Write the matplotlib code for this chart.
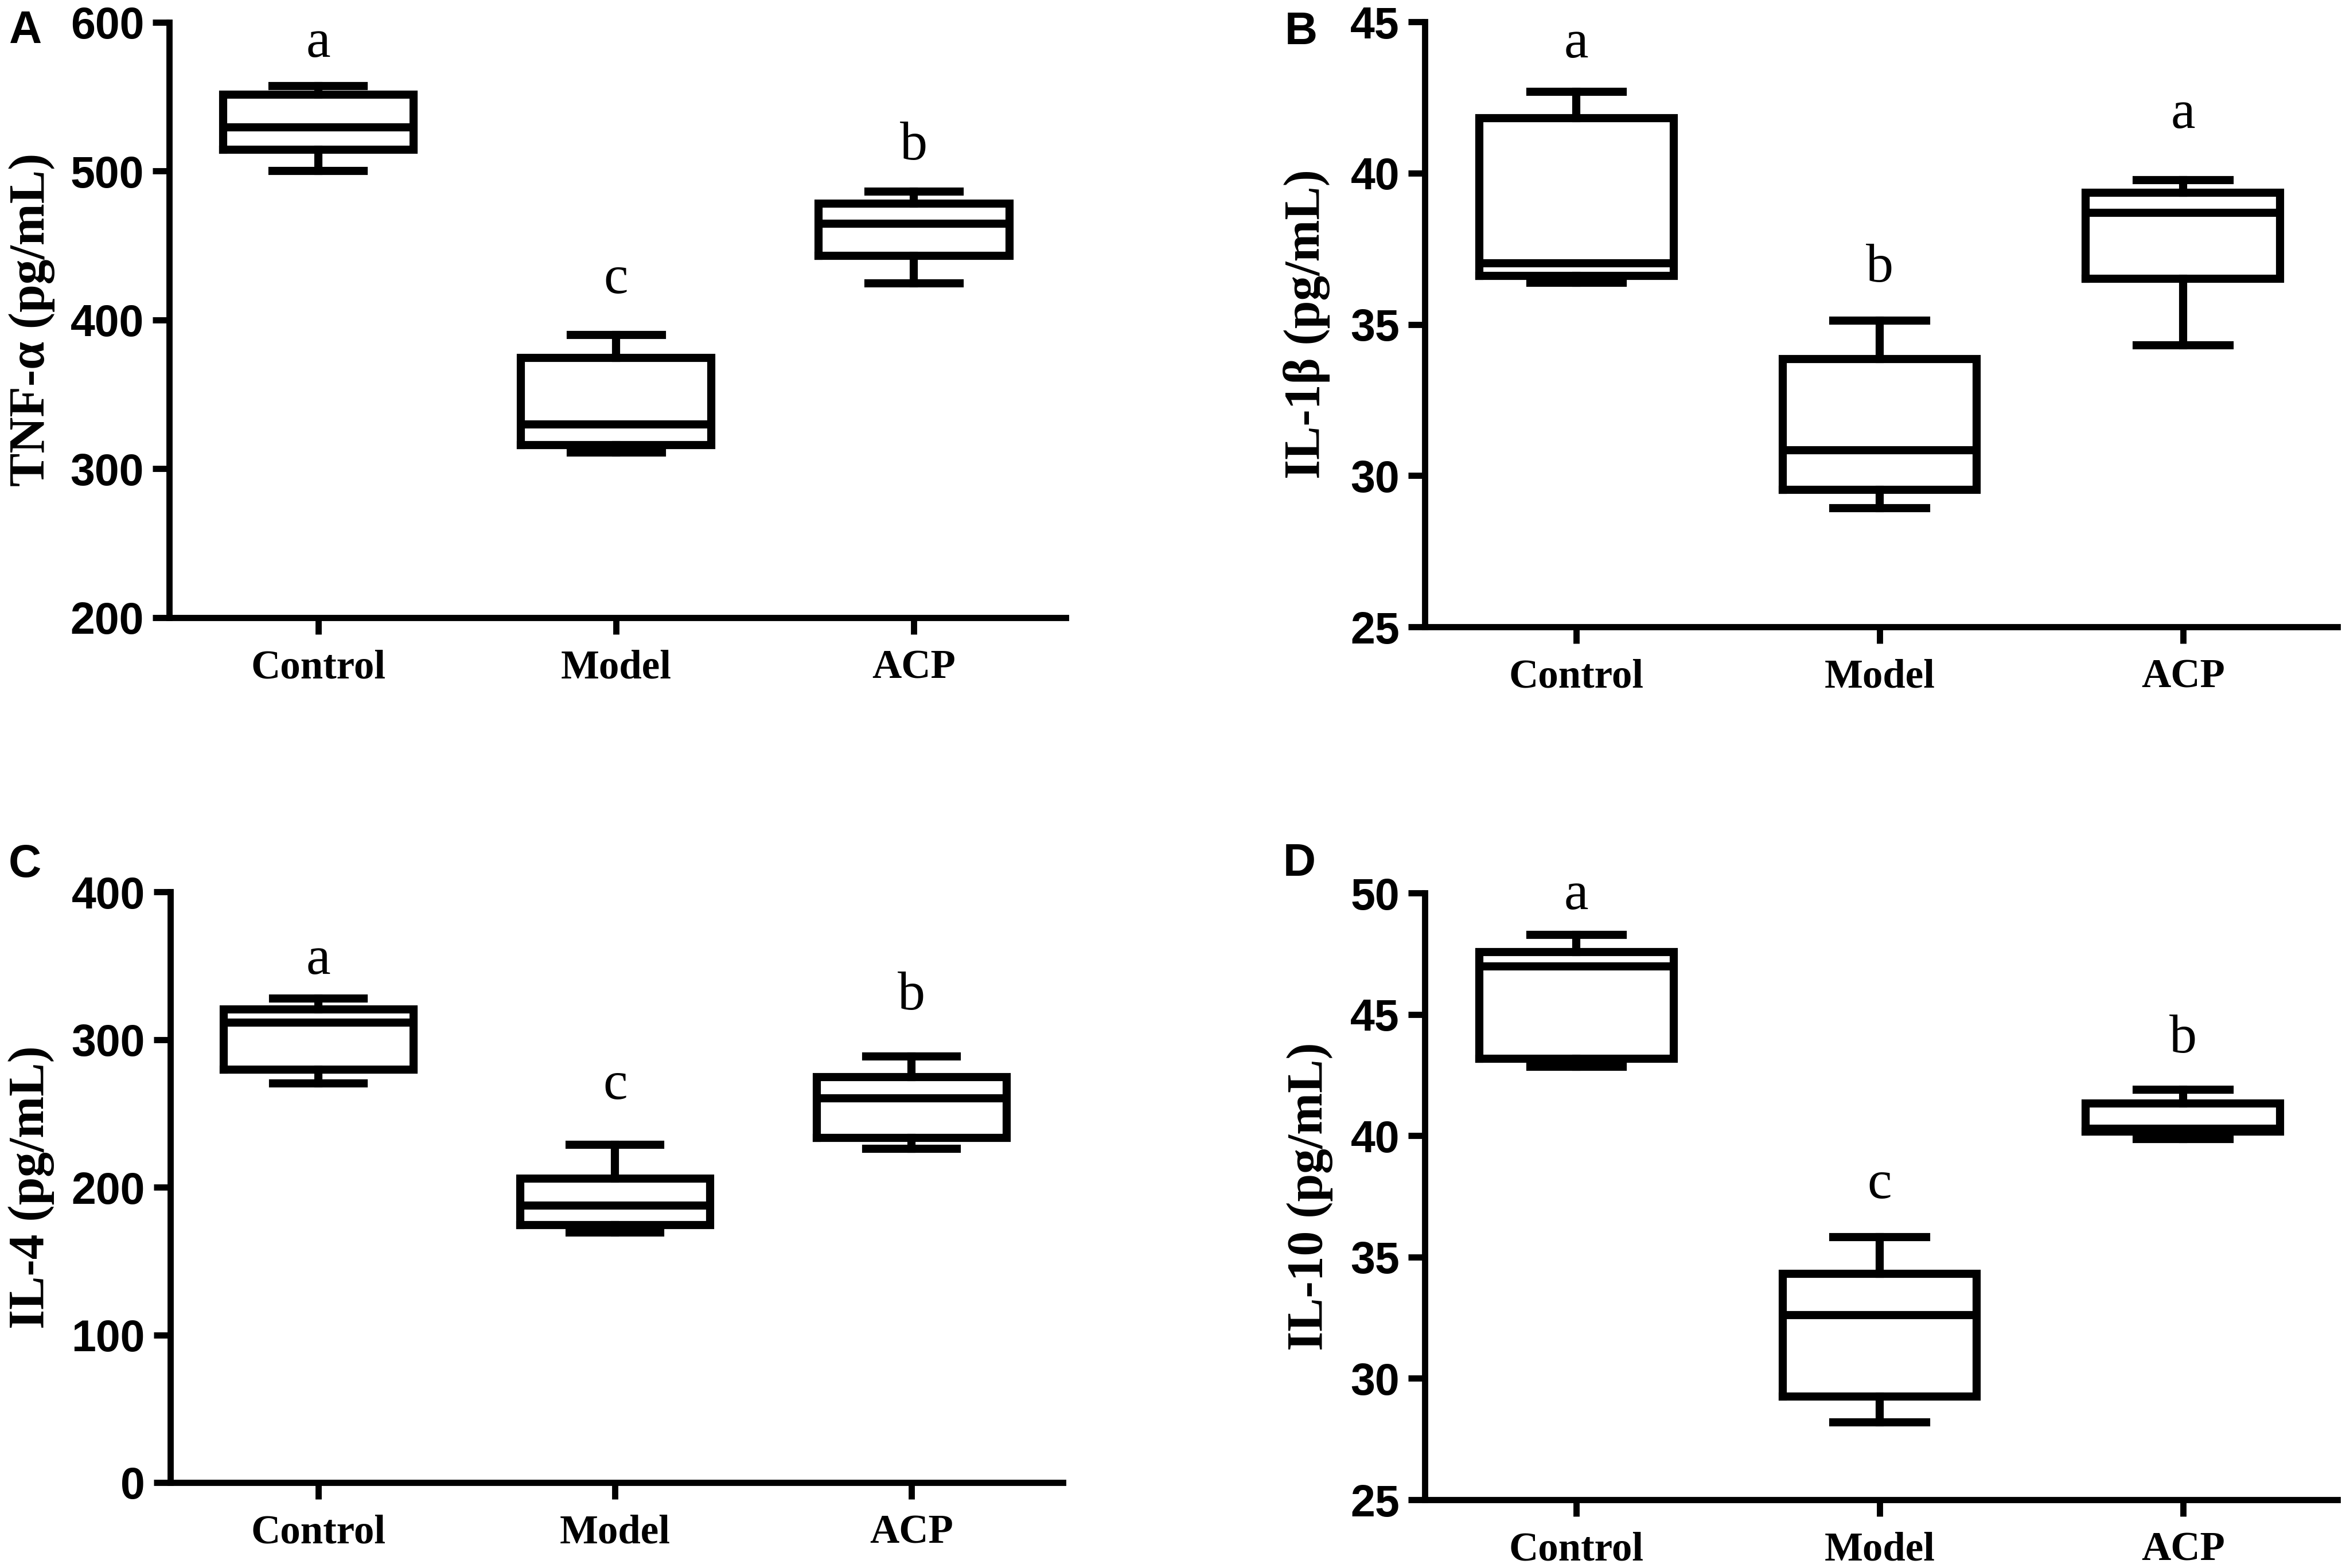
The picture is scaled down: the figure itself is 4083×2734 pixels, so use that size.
import matplotlib
matplotlib.use('Agg')
import matplotlib.pyplot as plt

groups = ['Control', 'Model', 'ACP']

# box stats per group: whisker low, Q1, median, Q3, whisker high
tnf = [[500, 514.5, 529.5, 551.5, 557],
       [311, 316, 330, 374.5, 390],
       [424.7, 443, 464.8, 478.3, 486.3]]
il1b = [[36.38, 36.6, 37.02, 41.81, 42.69],
        [28.93, 29.53, 30.84, 33.86, 35.13],
        [34.3, 36.5, 38.68, 39.36, 39.77]]
il4 = [[270.5, 279.7, 311.5, 320.4, 327.8],
       [169.3, 174.4, 187.7, 205.9, 228.8],
       [225.9, 233.3, 260.3, 274.6, 288.6]]
il10 = [[42.85, 43.18, 46.98, 47.56, 48.28],
        [28.18, 29.26, 32.62, 34.30, 35.83],
        [39.86, 40.17, 40.3, 41.32, 41.9]]

# significance letters and the height of their baseline
tnf_letters = ['a', 'c', 'b']
tnf_letter_y = [577, 418, 508]
il1b_letters = ['a', 'b', 'a']
il1b_letter_y = [43.82, 36.41, 41.49]
il4_letters = ['a', 'c', 'b']
il4_letter_y = [344.5, 260, 320.4]
il10_letters = ['a', 'c', 'b']
il10_letter_y = [49.34, 37.43, 43.43]

panels = [
    ('A', tnf, 'TNF-α (pg/mL)', (200, 600), [200, 300, 400, 500, 600], tnf_letters, tnf_letter_y),
    ('B', il1b, 'IL-1β (pg/mL)', (25, 45), [25, 30, 35, 40, 45], il1b_letters, il1b_letter_y),
    ('C', il4, 'IL-4 (pg/mL)', (0, 400), [0, 100, 200, 300, 400], il4_letters, il4_letter_y),
    ('D', il10, 'IL-10 (pg/mL)', (25, 50), [25, 30, 35, 40, 45, 50], il10_letters, il10_letter_y),
]

# axes rectangles in figure fractions
rects = [[0.0723, 0.6061, 0.3828, 0.3797],
         [0.6084, 0.6002, 0.3897, 0.3859],
         [0.0727, 0.0545, 0.3811, 0.3767],
         [0.6084, 0.0435, 0.3897, 0.3870]]
label_x = [-0.1536, -0.1295, -0.1555, -0.126]
tag_pos = [(0.0037, 0.9726), (0.5486, 0.9718), (0.0037, 0.4407), (0.5479, 0.4415)]

serif = 'Liberation Serif'
sans = 'Liberation Sans'
lw = 3.4

fig = plt.figure(figsize=(4083 / 300, 2734 / 300), dpi=300)

for i, (tag, stats, ylab, ylim, yticks, letters, letter_y) in enumerate(panels):
    ax = fig.add_axes(rects[i])
    bstats = []
    for g, s in zip(groups, stats):
        bstats.append({'label': g, 'whislo': s[0], 'q1': s[1], 'med': s[2],
                       'q3': s[3], 'whishi': s[4]})
    line = dict(color='black', linewidth=lw, solid_joinstyle='miter')
    ax.bxp(bstats, positions=[1, 2, 3], widths=0.64, capwidths=0.306,
           showfliers=False, boxprops=line, medianprops=line,
           whiskerprops=line, capprops=line)

    ax.set_xlim(0.5, 3.51)
    ax.set_ylim(*ylim)
    ax.set_yticks(yticks)
    ax.set_xticks([1, 2, 3])
    ax.set_xticklabels(groups, fontfamily=serif, fontweight='bold', fontsize=17)
    for t in ax.get_yticklabels():
        t.set_fontfamily(sans)
        t.set_fontweight('bold')
        t.set_fontsize(18.5)

    for side in ['top', 'right']:
        ax.spines[side].set_visible(False)
    for side in ['left', 'bottom']:
        ax.spines[side].set_linewidth(2.6)
    ax.tick_params(axis='y', length=7, width=2.6, pad=3.6)
    ax.tick_params(axis='x', length=7, width=2.6, pad=6.3)

    ax.set_ylabel(ylab, fontfamily=serif, fontweight='bold', fontsize=21, va='center')
    ax.yaxis.set_label_coords(label_x[i], 0.5)

    for x, (lt, ly) in enumerate(zip(letters, letter_y), start=1):
        ax.text(x, ly, lt, fontfamily=serif, fontsize=23, ha='center', va='baseline')

    fig.text(tag_pos[i][0], tag_pos[i][1], tag, fontfamily=sans, fontweight='bold',
             fontsize=19, ha='left', va='baseline')

fig.savefig('out.png', dpi=300, facecolor='white')
